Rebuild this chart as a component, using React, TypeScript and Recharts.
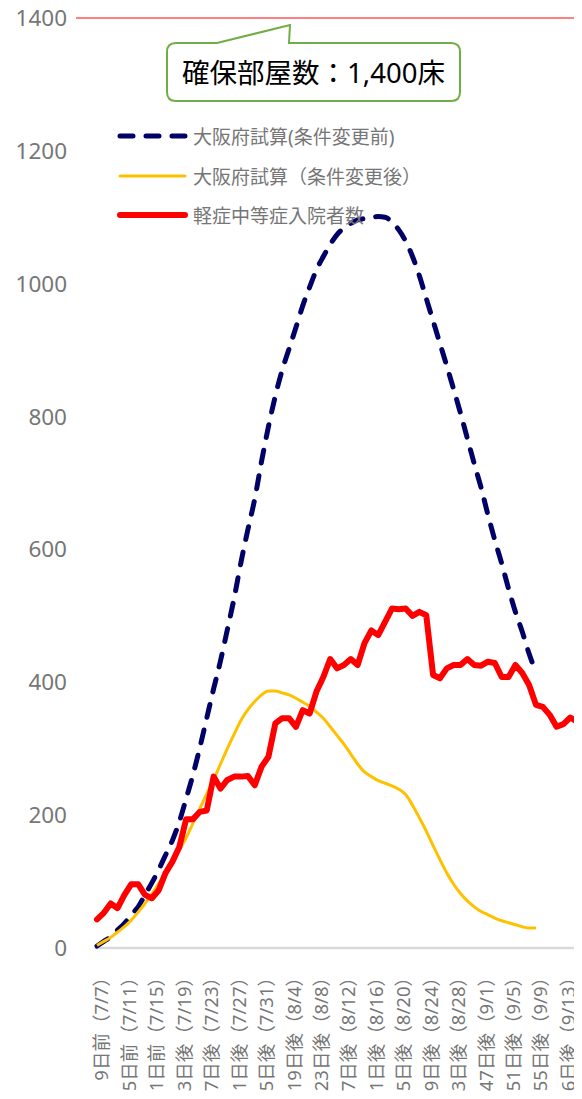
import React from 'react';
import { LineChart, Line, XAxis, YAxis, ReferenceLine, Legend } from 'recharts';

// 大阪府試算（条件変更前） 7/7〜9/9
const beforeChange = [
  3, 10, 17, 27, 37, 50, 62, 80, 98, 118, 140, 162, 190, 225, 261, 302, 346, 390, 432, 479,
  527, 581, 630, 676, 733, 785, 831, 870, 902, 934, 967, 995, 1021, 1041, 1059, 1074, 1084, 1091, 1096, 1098,
  1100, 1101, 1100, 1093, 1081, 1064, 1041, 1012, 978, 944, 910, 876, 841, 805, 767, 729, 693, 652, 614, 579,
  541, 506, 476, 443, 415,
];

// 大阪府試算（条件変更後） 7/7〜9/9
const afterChange = [
  4, 10, 16, 24, 32, 42, 54, 67, 81, 97, 114, 131, 148, 166, 188, 210, 232, 253, 277, 300,
  322, 343, 359, 371, 381, 387, 387, 384, 381, 376, 370, 364, 355, 346, 333, 320, 307, 292, 277, 265,
  258, 252, 248, 244, 239, 231, 215, 196, 176, 154, 133, 113, 96, 82, 71, 62, 55, 50, 45, 41,
  38, 35, 32, 30, 30,
];

// 軽症中等症入院者数（実績）
const inpatients = [
  43, 53, 67, 60, 80, 96, 96, 80, 75, 87, 113, 130, 152, 194, 194, 205, 207, 258, 240, 253,
  258, 258, 259, 245, 273, 288, 338, 346, 346, 333, 358, 353, 386, 408, 435, 421, 426, 435, 426, 459,
  478, 471, 491, 511, 510, 511, 500, 506, 501, 411, 406, 421, 426, 426, 435, 426, 425, 431, 429, 408,
  408, 426, 414, 396, 366, 363, 351, 333, 337, 347, 341, 333,
];

// 4日おきの目盛りラベル
const tickLabels = [
  '9日前（7/7）', '5日前（7/11）', '1日前（7/15）', '3日後（7/19）', '7日後（7/23）',
  '11日後（7/27）', '15日後（7/31）', '19日後（8/4）', '23日後（8/8）', '27日後（8/12）',
  '31日後（8/16）', '35日後（8/20）', '39日後（8/24）', '43日後（8/28）', '47日後（9/1）',
  '51日後（9/5）', '55日後（9/9）', '56日後（9/13）',
];

const yTicks = [0, 200, 400, 600, 800, 1000, 1200, 1400];
const CAPACITY = 1400;

const X_MIN = -3.06;
const X_MAX = 70.71;

const data = inpatients.map((v, i) => ({
  day: i,
  before: beforeChange[i],
  after: afterChange[i],
  inpatients: v,
}));

const FONT = "'Noto Sans', 'Noto Sans CJK JP', sans-serif";
const GRAY = '#767676';

const seriesStyle: Record<string, { stroke: string; width: number; dash?: string }> = {
  before: { stroke: '#000066', width: 5, dash: '13 13' },
  after: { stroke: '#FFC000', width: 3 },
  inpatients: { stroke: '#FF0000', width: 6 },
};

const DayTick = ({ x, y, payload }: any) => {
  const label = tickLabels[Math.round(payload.value / 4)];
  const ty = y + 12;
  return (
    <text
      x={x}
      y={ty}
      dy={4}
      transform={`rotate(-90, ${x}, ${ty})`}
      textAnchor="end"
      dominantBaseline="central"
      fill={GRAY}
      fontSize={18.5}
      fontFamily={FONT}
    >
      {label}
    </text>
  );
};

const LegendContent = ({ payload }: any) => (
  <div style={{ fontFamily: FONT }}>
    {(payload || []).map((entry: any) => {
      const s = seriesStyle[entry.dataKey];
      return (
        <div key={entry.dataKey} style={{ display: 'flex', alignItems: 'center', height: 39.5 }}>
          <svg width={76} height={14} style={{ marginRight: 3, flexShrink: 0 }}>
            <line
              x1={6}
              x2={71}
              y1={7}
              y2={7}
              stroke={s.stroke}
              strokeWidth={s.width}
              strokeDasharray={s.dash}
              strokeLinecap="round"
            />
          </svg>
          <span style={{ color: GRAY, fontSize: 19, whiteSpace: 'nowrap' }}>{entry.value}</span>
        </div>
      );
    })}
  </div>
);

// 上限ラインに付く吹き出し
const CapacityCallout = ({ viewBox }: any) => {
  const { x, y } = viewBox;
  const left = x + 91;
  const right = x + 384;
  const top = y + 25;
  const bottom = y + 83;
  const r = 9;
  const d = [
    `M ${left + r} ${top}`,
    `L ${x + 141} ${top}`,
    `L ${x + 214} ${y + 7}`,
    `L ${x + 213} ${top}`,
    `L ${right - r} ${top}`,
    `Q ${right} ${top} ${right} ${top + r}`,
    `L ${right} ${bottom - r}`,
    `Q ${right} ${bottom} ${right - r} ${bottom}`,
    `L ${left + r} ${bottom}`,
    `Q ${left} ${bottom} ${left} ${bottom - r}`,
    `L ${left} ${top + r}`,
    `Q ${left} ${top} ${left + r} ${top}`,
    'Z',
  ].join(' ');
  return (
    <g>
      <path d={d} fill="#ffffff" stroke="#70AD47" strokeWidth={2} />
      <text
        x={(left + right) / 2}
        y={(top + bottom) / 2}
        textAnchor="middle"
        dominantBaseline="central"
        fontSize={27.5}
        fontFamily={FONT}
        fill="#000000"
      >
        確保部屋数：1,400床
      </text>
    </g>
  );
};

export default function App() {
  return (
    <div style={{ width: 582, height: 1099, overflow: 'hidden', margin: -8, background: '#fff' }}>
      <LineChart width={582} height={1180} data={data} margin={{ top: 18, right: 0, left: 0, bottom: 0 }}>
        <XAxis
          type="number"
          dataKey="day"
          domain={[X_MIN, X_MAX]}
          allowDataOverflow
          ticks={tickLabels.map((_, i) => i * 4)}
          interval={0}
          axisLine={false}
          tickLine={false}
          height={232}
          tick={<DayTick />}
        />
        <YAxis
          width={76}
          domain={[0, CAPACITY]}
          ticks={yTicks}
          axisLine={false}
          tickLine={false}
          tickMargin={3}
          tick={{ fill: GRAY, fontSize: 22.5, fontFamily: FONT }}
        />
        <ReferenceLine
          segment={[{ x: -0.3, y: 0 }, { x: X_MAX, y: 0 }]}
          stroke="#d9d9d9"
          strokeWidth={2.5}
        />
        <ReferenceLine y={CAPACITY} stroke="#FF0000" strokeWidth={1} label={<CapacityCallout />} />
        <Legend
          layout="vertical"
          align="center"
          verticalAlign="middle"
          wrapperStyle={{ left: 114, top: 116.5, width: 'auto' }}
          content={<LegendContent />}
        />
        <Line
          dataKey="before"
          name="大阪府試算(条件変更前)"
          type="monotone"
          stroke={seriesStyle.before.stroke}
          strokeWidth={seriesStyle.before.width}
          strokeDasharray={seriesStyle.before.dash}
          strokeLinecap="round"
          dot={false}
          activeDot={false}
          isAnimationActive={false}
        />
        <Line
          dataKey="after"
          name="大阪府試算（条件変更後）"
          type="monotone"
          stroke={seriesStyle.after.stroke}
          strokeWidth={seriesStyle.after.width}
          dot={false}
          activeDot={false}
          isAnimationActive={false}
        />
        <Line
          dataKey="inpatients"
          name="軽症中等症入院者数"
          type="linear"
          stroke={seriesStyle.inpatients.stroke}
          strokeWidth={seriesStyle.inpatients.width}
          strokeLinejoin="round"
          strokeLinecap="round"
          dot={false}
          activeDot={false}
          isAnimationActive={false}
        />
      </LineChart>
    </div>
  );
}
